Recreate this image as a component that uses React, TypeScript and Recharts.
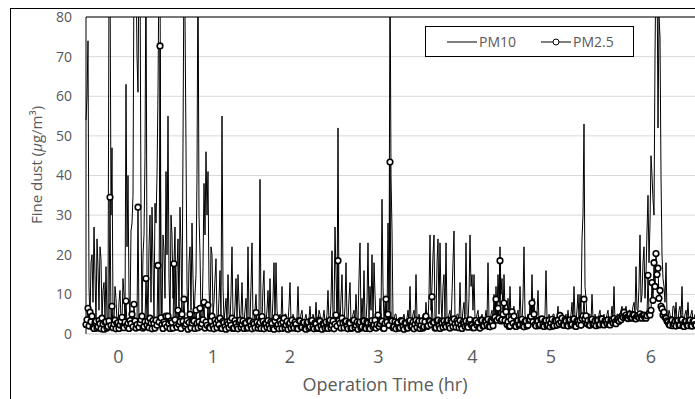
import { CartesianGrid, Line, LineChart, ReferenceLine, XAxis, YAxis } from "recharts";

// PM10 readings, one per sample step
const pm10 = [
  54, 60, 74, 12, 3, 18, 20, 8, 27, 15, 3, 24, 17, 6, 22, 19, 3, 11, 13, 4,
  17, 4, 3, 90, 95, 30, 47, 5, 3, 12, 9, 3, 2, 8, 11, 3, 3, 14, 10, 4,
  63, 22, 40, 10, 3, 26, 28, 35, 95, 88, 95, 70, 61, 95, 95, 30, 4, 20, 25, 45,
  95, 15, 3, 22, 30, 8, 32, 18, 4, 33, 28, 40, 61, 95, 95, 12, 3, 25, 21, 9,
  41, 20, 55, 14, 3, 30, 25, 9, 18, 27, 3, 16, 24, 4, 32, 22, 3, 48, 95, 80,
  47, 12, 3, 18, 22, 6, 28, 14, 3, 10, 15, 40, 95, 30, 20, 5, 3, 17, 38, 25,
  46, 30, 41, 12, 3, 22, 20, 5, 8, 14, 19, 3, 3, 9, 16, 4, 55, 12, 3, 6,
  9, 3, 15, 5, 3, 10, 22, 4, 3, 7, 14, 3, 15, 8, 3, 5, 13, 3, 3, 6,
  9, 3, 22, 4, 3, 12, 23, 3, 3, 6, 10, 3, 3, 5, 39, 4, 3, 12, 16, 3,
  3, 6, 11, 3, 14, 4, 3, 9, 18, 3, 18, 6, 3, 4, 5, 3, 12, 3, 3, 5,
  5, 3, 3, 7, 13, 3, 3, 5, 4, 3, 3, 4, 12, 3, 3, 5, 6, 3, 3, 4,
  5, 3, 3, 4, 7, 3, 3, 5, 4, 3, 8, 3, 3, 6, 5, 3, 3, 4, 6, 3,
  3, 5, 11, 3, 3, 8, 21, 4, 3, 27, 15, 4, 52, 6, 3, 9, 15, 3, 3, 7,
  18, 3, 3, 9, 13, 3, 3, 5, 6, 3, 10, 4, 3, 14, 23, 3, 9, 4, 16, 3,
  3, 8, 23, 4, 12, 6, 20, 3, 18, 10, 3, 4, 5, 3, 9, 4, 34, 12, 3, 8,
  8, 3, 28, 6, 95, 40, 26, 4, 3, 5, 5, 3, 3, 4, 4, 3, 3, 4, 5, 3,
  3, 4, 6, 3, 12, 3, 3, 5, 6, 3, 15, 4, 3, 5, 4, 3, 3, 5, 5, 3,
  8, 3, 3, 10, 25, 6, 12, 20, 25, 4, 3, 18, 24, 5, 23, 9, 3, 12, 15, 4,
  23, 4, 3, 5, 6, 3, 10, 18, 26, 4, 3, 5, 5, 3, 13, 4, 3, 6, 8, 3,
  23, 5, 3, 9, 25, 12, 15, 6, 15, 4, 3, 5, 6, 3, 3, 4, 5, 3, 3, 4,
  6, 3, 18, 4, 3, 5, 6, 3, 10, 4, 12, 5, 15, 8, 22, 10, 14, 4, 15, 6,
  3, 5, 9, 3, 12, 4, 3, 6, 7, 3, 3, 5, 6, 3, 12, 4, 3, 9, 22, 5,
  3, 4, 5, 3, 8, 5, 15, 4, 9, 3, 3, 5, 11, 3, 3, 4, 4, 3, 3, 5,
  16, 4, 3, 5, 4, 3, 3, 5, 5, 3, 3, 4, 7, 3, 3, 5, 5, 3, 3, 4,
  5, 3, 6, 3, 3, 5, 8, 3, 12, 4, 3, 6, 10, 4, 10, 5, 24, 30, 53, 12,
  9, 4, 3, 5, 5, 3, 10, 4, 3, 5, 4, 3, 3, 5, 6, 3, 3, 4, 5, 3,
  3, 5, 6, 3, 3, 4, 7, 4, 12, 3, 3, 5, 5, 4, 4, 6, 7, 5, 5, 6,
  7, 5, 5, 6, 6, 5, 5, 7, 8, 5, 17, 6, 6, 12, 25, 8, 10, 18, 22, 9,
  15, 26, 35, 18, 28, 45, 40, 34, 30, 70, 95, 95, 52, 80, 75, 40, 20, 14, 12, 8,
  18, 5, 4, 6, 5, 3, 3, 7, 7, 4, 8, 3, 3, 6, 7, 4, 12, 3, 3, 5,
  6, 4, 8, 3, 3, 5, 6, 3, 4, 5, 5,
];

// PM2.5 readings, same sample steps
const pm25 = [
  2.4, 3.6, 6.5, 2.0, 5.5, 3.1, 4.5, 1.7, 1.4, 2.9, 3.2, 1.5, 1.8, 3.4, 2.6, 1.3, 4.0, 2.5, 1.2, 3.0,
  3.1, 1.5, 1.9, 3.3, 34.5, 2.2, 7.0, 1.6, 2.5, 3.5, 1.3, 2.7, 2.9, 1.4, 2.3, 3.2, 4.2, 1.8, 1.6, 3.0,
  8.3, 2.1, 2.7, 1.4, 3.4, 2.6, 5.0, 1.8, 7.5, 3.3, 1.5, 2.4, 32.0, 1.7, 2.8, 3.6, 4.5, 1.5, 1.9, 3.1,
  14.0, 2.3, 3.2, 1.6, 4.0, 2.8, 1.3, 3.4, 2.6, 1.5, 3.5, 2.2, 17.3, 3.0, 72.7, 4.1, 2.4, 1.4, 3.0, 2.5,
  4.5, 1.8, 4.5, 2.6, 1.4, 3.3, 2.9, 1.5, 17.7, 3.6, 2.2, 1.7, 6.0, 2.4, 3.1, 1.4, 5.0, 3.2, 8.8, 2.0,
  2.5, 3.4, 1.2, 2.9, 5.0, 1.6, 2.8, 3.5, 3.3, 1.4, 6.0, 2.7, 1.6, 3.1, 6.5, 1.9, 2.6, 3.6, 8.0, 1.5,
  3.0, 2.2, 7.3, 1.7, 1.5, 3.3, 4.5, 2.0, 1.3, 3.5, 2.7, 1.6, 3.4, 2.4, 4.0, 1.5, 1.4, 3.2, 2.9, 1.8,
  1.2, 3.0, 2.5, 1.6, 3.3, 2.2, 4.0, 1.4, 1.5, 3.4, 2.6, 1.8, 1.3, 3.1, 3.5, 1.7, 2.4, 3.3, 1.4, 2.7,
  2.8, 1.5, 1.6, 3.4, 3.2, 2.0, 1.3, 2.9, 2.5, 1.6, 5.4, 3.0, 1.5, 2.3, 2.9, 1.4, 4.4, 3.2, 1.3, 2.6,
  2.6, 1.7, 3.4, 2.2, 1.4, 3.1, 2.7, 1.5, 1.2, 3.3, 4.2, 1.9, 2.4, 1.3, 3.3, 2.5, 1.4, 3.0, 4.0, 1.6,
  2.3, 3.2, 1.2, 2.4, 2.8, 1.5, 3.5, 2.1, 1.5, 3.0, 2.5, 1.4, 1.3, 3.4, 3.3, 1.8, 1.7, 2.9, 2.9, 1.4,
  1.2, 2.7, 3.0, 1.5, 1.8, 3.3, 3.4, 1.9, 1.3, 2.8, 2.6, 1.4, 1.6, 3.5, 3.2, 2.0, 1.2, 2.6, 2.4, 1.5,
  3.0, 1.7, 1.4, 3.1, 3.5, 1.6, 2.2, 3.3, 1.3, 2.5, 4.8, 2.0, 18.5, 3.4, 2.7, 1.5, 4.0, 2.8, 1.6, 3.2,
  3.2, 1.9, 1.3, 2.9, 2.7, 1.4, 1.5, 3.4, 3.5, 1.7, 2.2, 3.0, 1.2, 2.6, 3.0, 1.5, 1.8, 3.3, 3.3, 1.6,
  1.4, 3.1, 2.8, 1.6, 1.3, 2.9, 3.4, 1.8, 2.3, 3.5, 1.5, 2.4, 4.8, 1.9, 2.6, 3.3, 3.2, 1.5, 1.4, 2.7,
  8.8, 3.0, 5.0, 2.2, 43.4, 3.5, 3.3, 1.6, 1.8, 3.1, 1.3, 2.6, 2.9, 1.5, 1.6, 3.4, 3.2, 1.8, 1.2, 2.8,
  2.7, 1.6, 1.5, 3.2, 3.4, 1.9, 2.0, 3.0, 1.3, 2.5, 3.5, 1.7, 2.8, 3.3, 1.4, 2.2, 3.3, 1.5, 1.8, 3.1,
  4.5, 1.9, 2.1, 3.4, 3.2, 2.4, 9.4, 3.0, 2.9, 1.5, 1.6, 3.3, 3.5, 2.0, 1.4, 3.2, 2.8, 1.7, 3.3, 2.3,
  1.8, 3.2, 3.5, 2.1, 1.5, 3.4, 3.0, 1.8, 3.8, 2.5, 1.7, 3.3, 2.8, 1.6, 3.4, 2.2, 1.4, 3.0, 2.6, 1.9,
  3.3, 2.0, 1.7, 3.1, 3.6, 2.4, 2.2, 1.6, 1.6, 3.3, 3.4, 2.2, 2.9, 1.7, 1.5, 3.5, 3.5, 2.0, 2.1, 3.2,
  3.1, 2.3, 3.7, 1.9, 1.8, 3.4, 3.2, 2.1, 3.9, 4.2, 8.8, 3.5, 6.5, 4.0, 18.5, 3.3, 3.6, 5.0, 7.8, 3.4,
  5.6, 2.4, 3.1, 1.9, 2.0, 3.6, 5.6, 2.7, 4.5, 2.0, 1.9, 3.3, 3.4, 2.2, 2.4, 3.5, 3.7, 2.1, 1.8, 3.2,
  3.3, 2.0, 2.2, 3.5, 3.6, 4.4, 7.8, 3.1, 5.0, 2.4, 2.0, 3.4, 3.3, 2.1, 2.4, 3.7, 3.8, 2.3, 1.9, 3.3,
  3.4, 2.1, 2.3, 3.5, 1.8, 2.8, 3.7, 2.0, 2.1, 3.4, 3.2, 2.2, 3.5, 2.6, 4.7, 3.0, 4.0, 2.3, 2.2, 3.6,
  3.3, 2.2, 2.0, 3.4, 3.6, 2.3, 2.4, 3.7, 3.8, 2.1, 1.9, 3.3, 3.2, 2.5, 3.5, 2.2, 3.9, 4.6, 8.8, 3.8,
  4.6, 2.6, 3.4, 2.3, 2.2, 3.6, 3.7, 2.4, 2.5, 3.3, 2.1, 3.5, 3.5, 2.3, 2.4, 3.8, 3.8, 2.5, 2.3, 3.4,
  3.3, 2.6, 3.6, 2.4, 2.3, 3.5, 3.4, 2.8, 3.9, 3.0, 2.6, 3.6, 3.7, 3.2, 4.1, 3.6, 4.6, 4.2, 5.5, 4.4,
  4.8, 4.2, 3.9, 4.6, 5.0, 4.0, 4.1, 4.9, 4.8, 3.9, 3.8, 4.5, 4.6, 4.1, 5.1, 4.3, 4.0, 4.8, 4.7, 4.1,
  4.0, 4.6, 14.8, 5.2, 4.8, 6.0, 13.0, 8.5, 18.0, 12.0, 20.3, 15.0, 16.6, 9.0, 11.0, 7.0, 6.4, 4.8, 5.5, 4.2,
  4.0, 3.3, 3.0, 2.4, 2.2, 3.6, 3.5, 2.1, 2.5, 3.2, 2.0, 3.4, 3.4, 2.2, 2.3, 3.5, 3.6, 2.0, 1.9, 3.1,
  3.2, 2.3, 2.1, 3.4, 3.5, 2.1, 2.0, 3.2, 3.3, 2.4, 2.2,
];

// hour labels sit at uneven sample positions
const xTickPos = [32.5, 127, 204, 292.5, 386.5, 465, 565];
const xTickLabels = ["0", "1", "2", "3", "4", "5", "6"];
const yTicks = [0, 10, 20, 30, 40, 50, 60, 70, 80];

const FONT = '"Open Sans", sans-serif';
const GRAY = "#595959";

const n = Math.min(pm10.length, pm25.length);
const data = pm10.slice(0, n).map((v, i) => ({ i, pm10: v, pm25: pm25[i] }));

function YTitle() {
  return (
    <text
      x={36}
      y={165}
      transform="rotate(-90 36 165)"
      textAnchor="middle"
      dominantBaseline="central"
      fill={GRAY}
      fontSize={15}
      fontFamily={FONT}
    >
      Fine dust (<tspan fontStyle="italic">μ</tspan>g/m³)
    </text>
  );
}

function XTitle() {
  return (
    <text x={385} y={391} textAnchor="middle" fill={GRAY} fontSize={18} fontFamily={FONT}>
      Operation Time (hr)
    </text>
  );
}

function LegendBox() {
  return (
    <div
      style={{
        position: "absolute",
        left: 425,
        top: 26,
        width: 207,
        height: 29,
        border: "1px solid #000",
        background: "#fff",
      }}
    >
      <svg width={207} height={29} style={{ display: "block" }}>
        <line x1={21} x2={51} y1={15} y2={15} stroke="#000" strokeWidth={1} />
        <text x={53} y={20} fill={GRAY} fontSize={14} fontFamily={FONT}>
          PM10
        </text>
        <line x1={115} x2={145} y1={15} y2={15} stroke="#000" strokeWidth={1} />
        <circle cx={130} cy={15} r={3} fill="#fff" stroke="#000" strokeWidth={1} />
        <text x={147} y={20} fill={GRAY} fontSize={14} fontFamily={FONT}>
          PM2.5
        </text>
      </svg>
    </div>
  );
}

export default function App() {
  return (
    <div style={{ position: "fixed", left: 0, top: 0, width: 695, height: 399, overflow: "hidden", background: "#fff" }}>
      <div
        style={{
          position: "absolute",
          left: 10,
          top: 8,
          width: 760,
          height: 460,
          border: "1px solid #000",
        }}
      />
      <div style={{ position: "absolute", left: 0, top: 0 }}>
        <LineChart width={700} height={399} data={data} margin={{ top: 17, right: 4, bottom: 25, left: 0 }}>
          <CartesianGrid vertical={false} stroke="#d9d9d9" />
          <XAxis
            dataKey="i"
            type="number"
            domain={[0, 610]}
            ticks={xTickPos}
            tickFormatter={(v) => xTickLabels[xTickPos.indexOf(v)] ?? ""}
            axisLine={{ stroke: "#d9d9d9" }}
            tickLine={false}
            tickSize={0}
            tickMargin={16}
            height={40}
            tick={{ fill: GRAY, fontSize: 18, fontFamily: FONT }}
            label={<XTitle />}
          />
          <YAxis
            domain={[0, 80]}
            ticks={yTicks}
            allowDataOverflow
            axisLine={false}
            tickLine={false}
            tickSize={0}
            tickMargin={14}
            width={86}
            tick={{ fill: GRAY, fontSize: 14, fontFamily: FONT }}
            label={<YTitle />}
          />
          <Line
            dataKey="pm10"
            name="PM10"
            stroke="#000"
            strokeWidth={1}
            dot={false}
            isAnimationActive={false}
          />
          <Line
            dataKey="pm25"
            name="PM2.5"
            stroke="#000"
            strokeWidth={1}
            dot={{ r: 2.8, fill: "#fff", stroke: "#000", strokeWidth: 1.6 }}
            isAnimationActive={false}
          />
          <ReferenceLine y={80} stroke="#000" strokeWidth={1} />
          <ReferenceLine x={0} stroke="#000" strokeWidth={1} />
        </LineChart>
      </div>
      <LegendBox />
    </div>
  );
}
